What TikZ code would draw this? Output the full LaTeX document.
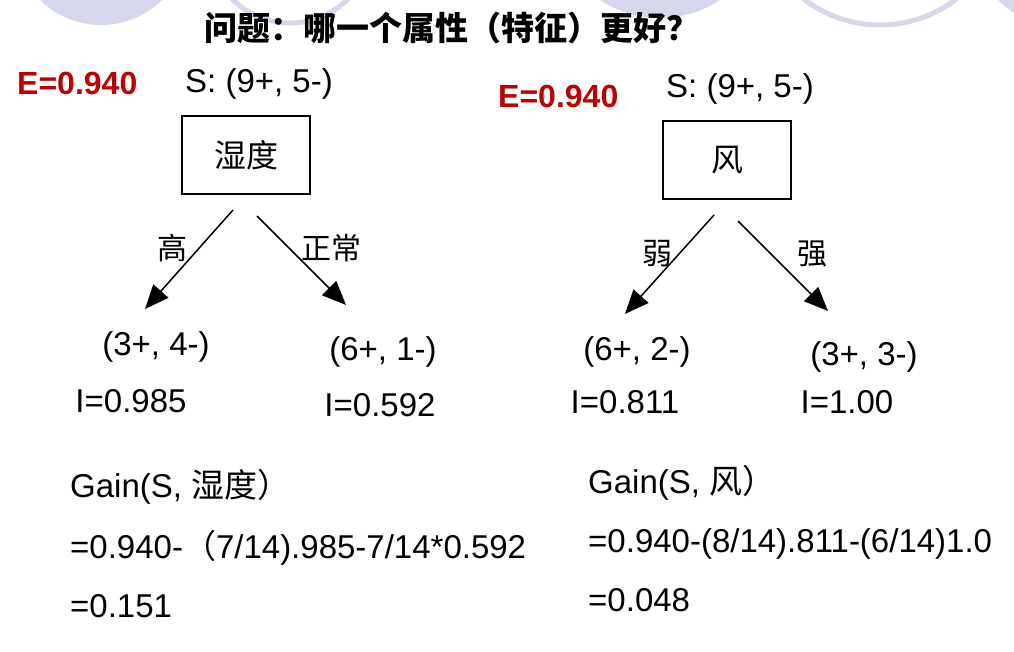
\documentclass[tikz,border=0pt]{standalone}
\usepackage{fontspec}
\setmainfont{Liberation Sans}
\newfontfamily\cjk{Noto Sans CJK SC}
\usetikzlibrary{arrows.meta}
\definecolor{deco}{RGB}{214,214,236}
\definecolor{ered}{RGB}{192,0,0}
\begin{document}
\begin{tikzpicture}[x=1pt,y=-1pt,
  txt/.style={font=\fontsize{33}{36}\selectfont, inner sep=0pt, anchor=base},
  ltxt/.style={txt, anchor=base west},
  etxt/.style={font=\fontsize{32}{36}\selectfont\bfseries, text=ered, inner sep=0pt, anchor=base west},
  title/.style={font=\fontsize{33}{36}\selectfont\cjk\bfseries, inner sep=0pt},
  attr/.style={draw, line width=1.8pt, minimum width=128pt, minimum height=78pt, inner sep=0pt, font=\fontsize{32}{36}\selectfont\cjk},
  lab/.style={font=\fontsize{30}{34}\selectfont\cjk, inner sep=0pt},
  arr/.style={line width=1.5pt, -{Triangle[length=24pt,width=20pt]}}]
\useasboundingbox (0,0) rectangle (1014,652);
\fill[white] (0,0) rectangle (1014,652);
% decorative template circles
\begin{scope}
\clip (0,0) rectangle (1014,652);
\fill[deco] (101,-62) circle[radius=87pt];
\draw[deco, line width=5pt] (290,-59) circle[radius=82pt];
\fill[deco] (660,-91) circle[radius=109pt];
\draw[deco, line width=5pt] (880,-100) circle[radius=125pt];
\fill[deco] (1060,-60) circle[radius=86pt];
\end{scope}
% title
\node[title] (title) at (452,28) {问题：哪一个属性（特征）更好？};
% left tree
\node[etxt] (e1) at (17,95) {E=0.940};
\node[ltxt] (s1) at (185,93) {S: (9+, 5-)};
\node[attr] (hum) at (246,155) {湿度};
\coordinate (h1s) at (233,210);
\coordinate (h1e) at (145,309);
\coordinate (h2s) at (257,216);
\coordinate (h2e) at (346,305);
\draw[arr] (h1s) -- (h1e);
\draw[arr] (h2s) -- (h2e);
\node[lab] (lhigh) at (172,248) {高};
\node[lab] (lnorm) at (331,248) {正常};
\node[txt] (c1) at (156,355) {(3+, 4-)};
\node[txt] (c2) at (383,360) {(6+, 1-)};
\node[txt] (i1) at (131,412) {I=0.985};
\node[txt] (i2) at (380,416) {I=0.592};
\node[ltxt] (g1) at (70,497) {Gain(S, {\cjk 湿度）}};
\node[ltxt] (g2) at (70,558) {=0.940-{\cjk （}7/14).985-7/14*0.592};
\node[ltxt] (g3) at (70,617) {=0.151};
% right tree
\node[etxt] (e2) at (498,108) {E=0.940};
\node[ltxt] (s2) at (666,98) {S: (9+, 5-)};
\node[attr] (wind) at (727,160) {风};
\coordinate (w1s) at (714,215);
\coordinate (w1e) at (625,314);
\coordinate (w2s) at (738,221);
\coordinate (w2e) at (828,311);
\draw[arr] (w1s) -- (w1e);
\draw[arr] (w2s) -- (w2e);
\node[lab] (lweak) at (657,254) {弱};
\node[lab] (lstrong) at (812,254) {强};
\node[txt] (c3) at (637,360) {(6+, 2-)};
\node[txt] (c4) at (864,365) {(3+, 3-)};
\node[txt] (i3) at (625,413) {I=0.811};
\node[txt] (i4) at (847,413) {I=1.00};
\node[ltxt] (g4) at (588,493) {Gain(S, {\cjk 风）}};
\node[ltxt] (g5) at (588,552) {=0.940-(8/14).811-(6/14)1.0};
\node[ltxt] (g6) at (588,611) {=0.048};
\end{tikzpicture}
\end{document}
